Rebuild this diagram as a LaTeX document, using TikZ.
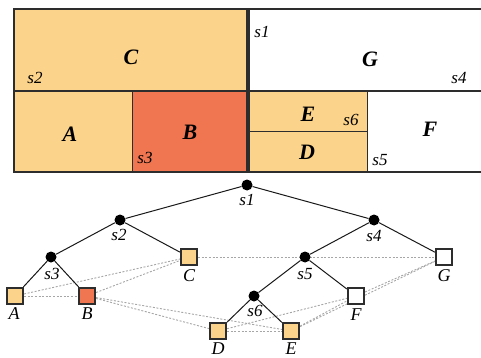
\documentclass[tikz,border=0pt]{standalone}
\usepackage{fontspec}
\setmainfont{Liberation Serif}
\usetikzlibrary{backgrounds}
\definecolor{lo}{RGB}{252,211,138}
\definecolor{ro}{RGB}{239,118,80}
\definecolor{ln}{RGB}{45,45,45}
\begin{document}
\begin{tikzpicture}[x=1pt,y=-1pt,
 plab/.style={font=\fontsize{22}{22}\selectfont\bfseries\itshape,inner sep=0pt},
 slab/.style={font=\fontsize{17}{17}\selectfont\itshape,inner sep=0pt},
 tlab/.style={font=\fontsize{18}{18}\selectfont\itshape,inner sep=0pt},
 inner/.style={circle,fill=black,inner sep=0pt,minimum size=11pt},
 leaf/.style={rectangle,draw=ln,line width=1.7pt,minimum size=16.5pt,inner sep=0pt},
 adj/.style={draw=black!35,line width=0.9pt,dash pattern=on 2pt off 1.6pt},
 tedge/.style={draw=black!90,line width=1pt}]
\useasboundingbox (0,0) rectangle (481,358);
% plan fills
\fill[lo] (14,9) rectangle (248,172);
\fill[ro] (132,91) rectangle (248,172);
\fill[lo] (248,91) rectangle (367,172);
% plan lines
\draw[ln, line width=1pt] (132,91) -- (132,172);
\draw[ln, line width=1pt] (248,132) -- (367,132);
\draw[ln, line width=1pt] (367,91) -- (367,172);
\draw[ln, line width=2.2pt] (14,91) -- (482,91);
\draw[ln, line width=2.5pt] (482,9) -- (14,9) -- (14,172) -- (482,172);
\draw[ln, line width=4pt] (248,9) -- (248,172);
% plan labels
\node[plab] (lC) at (131,57) {C};
\node[slab] (ls2) at (35,78) {s2};
\node[plab] (lA) at (70,134) {A};
\node[plab] (lB) at (190,132) {B};
\node[slab] (ls3) at (145,158) {s3};
\node[slab] (ls1) at (262,32) {s1};
\node[plab] (lG) at (370,59) {G};
\node[slab] (ls4) at (459,78) {s4};
\node[plab] (lE) at (308,114) {E};
\node[slab] (ls6) at (351,120) {s6};
\node[plab] (lD) at (307,152) {D};
\node[plab] (lF) at (430,129) {F};
\node[slab] (ls5) at (380,160) {s5};
% tree nodes
\node[inner] (s1) at (247,185) {};
\node[inner] (s2) at (120,220) {};
\node[inner] (s3) at (51,257) {};
\node[inner] (s4) at (374,220) {};
\node[inner] (s5) at (305,257) {};
\node[inner] (s6) at (254,296) {};
\node[leaf,fill=lo] (C) at (189,257) {};
\node[leaf,fill=lo] (A) at (15,296) {};
\node[leaf,fill=ro] (B) at (87,296) {};
\node[leaf,fill=white] (G) at (444,257) {};
\node[leaf,fill=white] (F) at (356,296) {};
\node[leaf,fill=lo] (D) at (218,331) {};
\node[leaf,fill=lo] (E) at (291,331) {};
% tree labels
\node[slab] (t1) at (247,200) {s1};
\node[slab] (t2) at (119,235) {s2};
\node[slab] (t3) at (52,274) {s3};
\node[slab] (t4) at (374,236) {s4};
\node[slab] (t5) at (305,274) {s5};
\node[slab] (t6) at (255,311) {s6};
\node[tlab] (tA) at (14,314) {A};
\node[tlab] (tB) at (87,314) {B};
\node[tlab] (tC) at (189,276) {C};
\node[tlab] (tD) at (218,348.5) {D};
\node[tlab] (tE) at (291,348.5) {E};
\node[tlab] (tF) at (356,315) {F};
\node[tlab] (tG) at (444,276) {G};
\begin{pgfonlayer}{background}
\draw[adj] (A) -- (B);
\draw[adj] (A) -- (C);
\draw[adj] (B) -- (C);
\draw[adj] (B) -- (D);
\draw[adj] (B) -- (E);
\draw[adj] (C) -- (G);
\draw[adj] (D) -- (E);
\draw[adj] (D) -- (F);
\draw[adj] (E) -- (F);
\draw[adj] (E) -- (G);
\draw[adj] (F) -- (G);
\draw[tedge] (s1) -- (s2);
\draw[tedge] (s1) -- (s4);
\draw[tedge] (s2) -- (s3);
\draw[tedge] (s2) -- (C);
\draw[tedge] (s3) -- (A);
\draw[tedge] (s3) -- (B);
\draw[tedge] (s4) -- (s5);
\draw[tedge] (s4) -- (G);
\draw[tedge] (s5) -- (s6);
\draw[tedge] (s5) -- (F);
\draw[tedge] (s6) -- (D);
\draw[tedge] (s6) -- (E);
\end{pgfonlayer}
\end{tikzpicture}
\end{document}
